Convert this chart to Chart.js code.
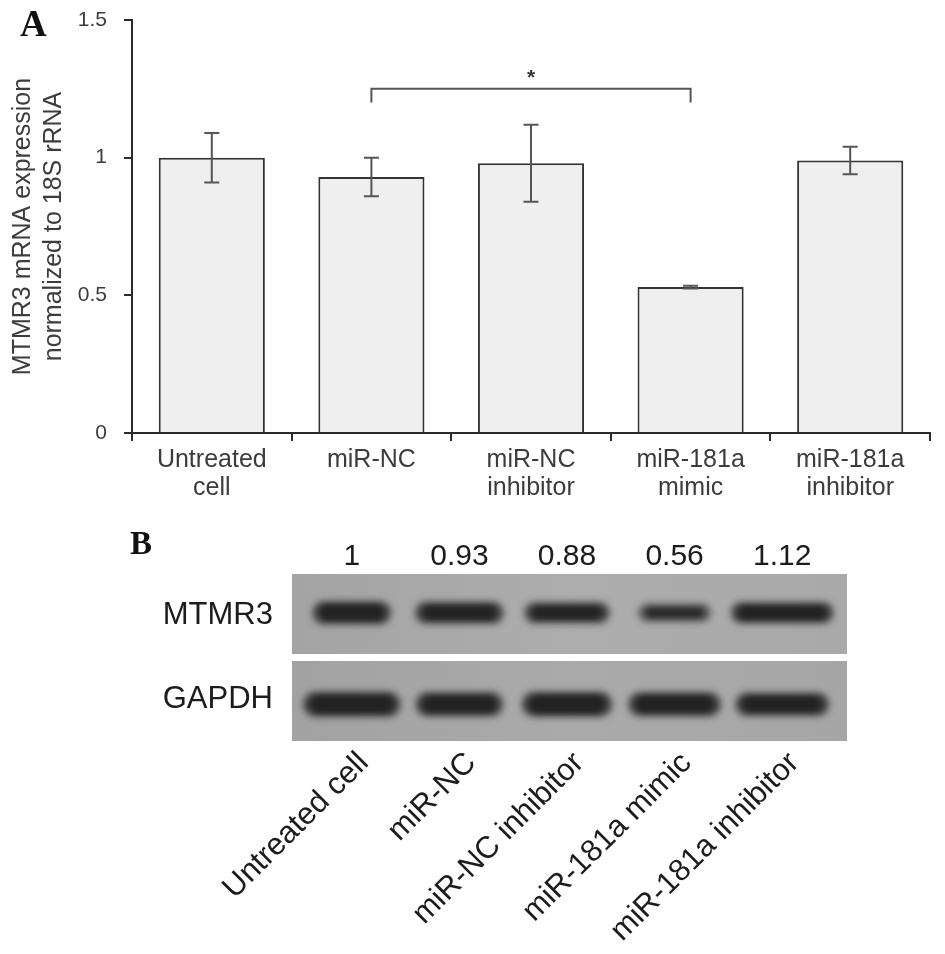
<!DOCTYPE html>
<html><head><meta charset="utf-8">
<script src="https://cdn.jsdelivr.net/npm/chart.js@4.4.1/dist/chart.umd.min.js"></script>
<style>
html,body{margin:0;padding:0;background:#fff;}
#wrap{position:relative;width:945px;height:954px;overflow:hidden;background:#fff;}
canvas{position:absolute;left:0;}
#cA{top:0;}
#cB{top:505px;}
.lbl{position:absolute;font-family:"Liberation Serif","Times New Roman",serif;font-weight:bold;color:#111;line-height:1;white-space:nowrap;}
</style></head>
<body><div id="wrap">
<canvas id="cA" width="945" height="505"></canvas>
<canvas id="cB" width="945" height="449"></canvas>
<div class="lbl" style="left:20px;top:5px;font-size:37px;">A</div>
<div class="lbl" style="left:130px;top:527px;font-size:33px;">B</div>
</div>
<script>
// ---------- data ----------
const categories = [['Untreated','cell'],['miR-NC'],['miR-NC','inhibitor'],['miR-181a','mimic'],['miR-181a','inhibitor']];
const mrnaMean = [1.00, 0.93, 0.98, 0.53, 0.99];
const mrnaErr  = [0.09, 0.07, 0.14, 0.005, 0.05];
const yTicks = [0, 0.5, 1, 1.5];
const sigFrom = 1, sigTo = 3, sigLevel = 1.25, sigDrop = 1.20, sigLabel = '*';

const blotLanes = ['Untreated cell','miR-NC','miR-NC inhibitor','miR-181a mimic','miR-181a inhibitor'];
const blotProteins = ['MTMR3','GAPDH'];
const mtmr3Density = [1, 0.93, 0.88, 0.56, 1.12];
const densityLabels = ['1','0.93','0.88','0.56','1.12'];

// ---------- style ----------
const FONT = '"Liberation Sans", Arial, Helvetica, sans-serif';
const AX = '#2b2b2b';
const TXT_A = '#3c3c3c';
const TXT_B = '#1c1c1c';

const errorBarPlugin = {
  id:'errbars',
  afterDatasetsDraw(chart){
    const {ctx, scales:{y}} = chart;
    const meta = chart.getDatasetMeta(0);
    ctx.save();
    ctx.strokeStyle = '#555'; ctx.lineWidth = 2;
    meta.data.forEach((bar,i)=>{
      const x = bar.x;
      const t = y.getPixelForValue(mrnaMean[i]+mrnaErr[i]);
      const b = y.getPixelForValue(mrnaMean[i]-mrnaErr[i]);
      ctx.beginPath();
      ctx.moveTo(x,t); ctx.lineTo(x,b);
      ctx.moveTo(x-7.5,t); ctx.lineTo(x+7.5,t);
      ctx.moveTo(x-7.5,b); ctx.lineTo(x+7.5,b);
      ctx.stroke();
    });
    ctx.restore();
  }
};

const bracketPlugin = {
  id:'bracket',
  afterDraw(chart){
    const {ctx, scales:{x,y}} = chart;
    const x1 = x.getPixelForValue(sigFrom), x2 = x.getPixelForValue(sigTo);
    const yl = y.getPixelForValue(sigLevel), yd = y.getPixelForValue(sigDrop);
    ctx.save();
    ctx.strokeStyle = '#555'; ctx.lineWidth = 2;
    ctx.beginPath();
    ctx.moveTo(x1,yd); ctx.lineTo(x1,yl); ctx.lineTo(x2,yl); ctx.lineTo(x2,yd);
    ctx.stroke();
    ctx.fillStyle = '#333';
    ctx.font = 'bold 21px ' + FONT;
    ctx.textAlign = 'center'; ctx.textBaseline = 'alphabetic';
    ctx.fillText(sigLabel, (x1+x2)/2, yl-5);
    ctx.restore();
  }
};

new Chart(document.getElementById('cA'), {
  type:'bar',
  data:{labels:categories, datasets:[{data:mrnaMean, backgroundColor:'#efefef', borderColor:'#333', borderWidth:2, categoryPercentage:1, barPercentage:0.665}]},
  options:{
    responsive:false, animation:false, events:[],
    layout:{padding:{top:20,right:15,left:0,bottom:0}},
    plugins:{legend:{display:false}, tooltip:{enabled:false}},
    scales:{
      x:{
        grid:{display:true, drawOnChartArea:false, drawTicks:true, tickLength:8, color:AX, lineWidth:2, offset:true},
        border:{display:true, color:AX, width:2},
        ticks:{font:{family:FONT,size:25,lineHeight:1.12}, color:TXT_A, padding:5, maxRotation:0, minRotation:0, autoSkip:false},
        afterFit(s){ s.height = 72; s.paddingLeft = 0; s.paddingRight = 0; }
      },
      y:{
        min:0, max:1.5,
        afterBuildTicks(s){ s.ticks = yTicks.map(v=>({value:v})); },
        grid:{drawOnChartArea:false, drawTicks:true, tickLength:8, color:AX, lineWidth:2},
        border:{display:true, color:AX, width:2},
        ticks:{font:{family:FONT,size:21}, color:TXT_A, padding:17, callback:v=>String(v)},
        title:{display:true, text:['MTMR3 mRNA expression','normalized to 18S rRNA'], font:{family:FONT,size:25,lineHeight:1.24}, color:TXT_A, padding:{top:7.5,bottom:0}},
        afterFit(s){ s.width = 132; s.paddingTop = 0; s.paddingBottom = 0; }
      }
    }
  },
  plugins:[errorBarPlugin, bracketPlugin]
});

// ---------- panel B (blot) ----------
const blotStyle = {
  widths:[[78,88,85,72,102],[97,87,90,92,93]],
  heights:[[23,22,21,18,21],[25,24,25,24,23]],
  dy:[-3,5],
  padL:6, padR:11, gap:3.5
};

function drawBand(ctx, x, y, w, h, alpha){
  ctx.save();
  ctx.globalAlpha = alpha;
  ctx.filter = 'blur(3.5px)';
  ctx.fillStyle = '#3a3a3a';
  ctx.beginPath(); ctx.roundRect(x-w/2, y-h/2, w, h, h/2); ctx.fill();
  ctx.filter = 'blur(2.5px)';
  ctx.fillStyle = '#222';
  const iw = w-16, ih = Math.max(h-9,3);
  ctx.beginPath(); ctx.roundRect(x-iw/2, y-ih/2, iw, ih, ih/2); ctx.fill();
  ctx.restore();
}

const blotPlugin = {
  id:'blot',
  beforeDatasetsDraw(chart){
    const {ctx, chartArea:a} = chart;
    const L = a.left - blotStyle.padL, R = a.right + blotStyle.padR;
    const mid = (a.top + a.bottom)/2;
    const panels = [[a.top, mid - blotStyle.gap],[mid + blotStyle.gap, a.bottom]];
    const tones = [['#a4a4a4','#adadad','#a9a9a9'],['#a2a2a2','#aaaaaa','#a6a6a6']];
    ctx.save();
    panels.forEach((p,k)=>{
      const g = ctx.createLinearGradient(L,0,R,0);
      g.addColorStop(0,tones[k][0]); g.addColorStop(0.5,tones[k][1]); g.addColorStop(1,tones[k][2]);
      ctx.fillStyle = g;
      ctx.fillRect(L, p[0], R-L, p[1]-p[0]);
    });
    ctx.restore();
    chart.data.datasets.forEach((ds,k)=>{
      const meta = chart.getDatasetMeta(k);
      meta.data.forEach((pt,i)=>{
        const d = ds.data[i].d;
        const alpha = d === undefined ? 1 : Math.min(1, 0.6 + 0.4*d);
        drawBand(ctx, pt.x, pt.y + blotStyle.dy[k], blotStyle.widths[k][i], blotStyle.heights[k][i], alpha);
      });
    });
  }
};

new Chart(document.getElementById('cB'), {
  type:'scatter',
  data:{
    labels: blotLanes,
    datasets:[
      {label:'MTMR3', data: blotLanes.map((l,i)=>({x:l, y:'MTMR3', d:mtmr3Density[i]})), pointRadius:0, xAxisID:'x', yAxisID:'y'},
      {label:'GAPDH', data: blotLanes.map(l=>({x:l, y:'GAPDH'})), pointRadius:0, xAxisID:'x', yAxisID:'y'}
    ]
  },
  options:{
    responsive:false, animation:false, events:[],
    layout:{padding:{top:0,right:109,left:0,bottom:0}},
    plugins:{legend:{display:false}, tooltip:{enabled:false}},
    scales:{
      x:{
        type:'category', position:'bottom', offset:true,
        grid:{display:false, drawTicks:false}, border:{display:false},
        ticks:{font:{family:FONT,size:31}, color:TXT_B, padding:4, labelOffset:12, minRotation:45, maxRotation:45, autoSkip:false},
        afterFit(s){ s.height = 213; }
      },
      x2:{
        type:'category', position:'top', offset:true, labels: densityLabels,
        grid:{display:false, drawTicks:false}, border:{display:false},
        ticks:{font:{family:FONT,size:30,lineHeight:1}, color:TXT_B, padding:2, maxRotation:0, minRotation:0, autoSkip:false},
        afterFit(s){ s.height = 69; }
      },
      y:{
        type:'category', position:'left', offset:true, labels: blotProteins,
        grid:{display:false, drawTicks:false}, border:{display:false},
        ticks:{font:{family:FONT,size:31}, color:TXT_B, padding:25},
        afterFit(s){ s.width = 298; }
      }
    }
  },
  plugins:[blotPlugin]
});
</script>
</body></html>
